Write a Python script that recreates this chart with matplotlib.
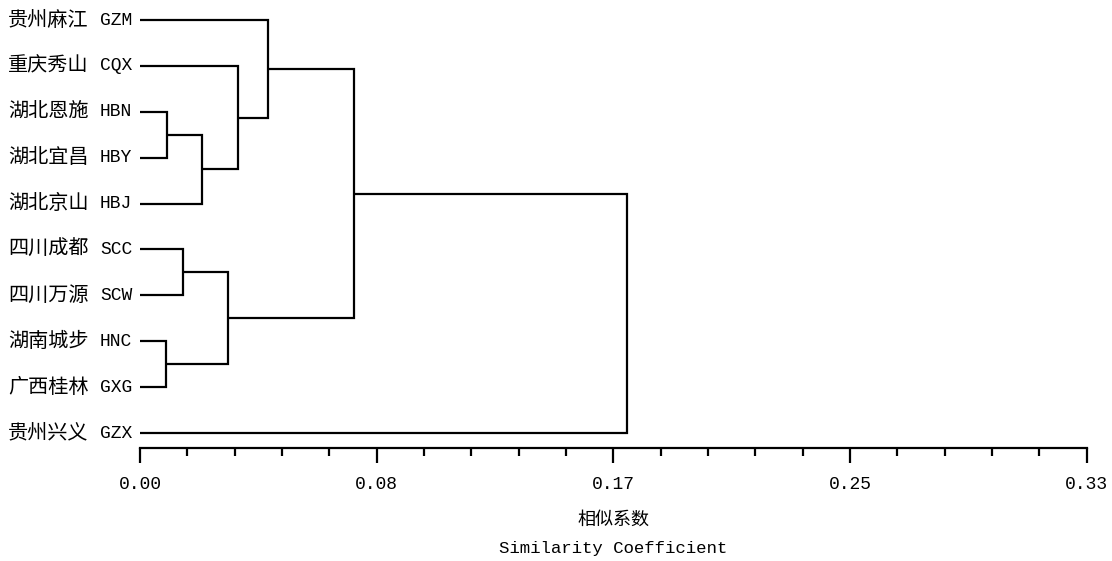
import matplotlib
matplotlib.use("Agg")
import matplotlib.pyplot as plt
import matplotlib.transforms as mtransforms
from matplotlib.ticker import FixedLocator, MultipleLocator

# ---------------- data ----------------
leaf_names = ["贵州麻江", "重庆秀山", "湖北恩施", "湖北宜昌", "湖北京山",
              "四川成都", "四川万源", "湖南城步", "广西桂林", "贵州兴义"]
leaf_codes = ["GZM", "CQX", "HBN", "HBY", "HBJ",
              "SCC", "SCW", "HNC", "GXG", "GZX"]
# merges: (left cluster, right cluster, height); clusters are leaf codes or merge ids "m#"
merge_left = ["HBN", "HNC", "SCC", "m0", "m2", "CQX", "GZM", "m6", "m7"]
merge_right = ["HBY", "GXG", "SCW", "HBJ", "m1", "m3", "m5", "m4", "GZX"]
merge_height = [0.0093, 0.0090, 0.0149, 0.0215, 0.0306, 0.0343, 0.0447, 0.0746, 0.1696]
tick_values = [0.0, 0.0825, 0.165, 0.2475, 0.33]
tick_labels = ["0.00", "0.08", "0.17", "0.25", "0.33"]
xlabel_cn = "相似系数"
xlabel_en = "Similarity Coefficient"

MONO = ["Liberation Mono", "Noto Sans CJK SC"]
CJK = ["Noto Sans CJK SC", "DejaVu Sans"]

fig = plt.figure(figsize=(11.12, 5.61), dpi=100)
ax = fig.add_axes([0.1259, 0.2014, 0.8514, 0.7711])

n = len(leaf_codes)
ypos = {c: (n - 1 - i) for i, c in enumerate(leaf_codes)}
xpos = {c: 0.0 for c in leaf_codes}

lw = 1.6
for k, (a, b, h) in enumerate(zip(merge_left, merge_right, merge_height)):
    ya, yb = ypos[a], ypos[b]
    xa, xb = xpos[a], xpos[b]
    ax.plot([xa, h, h, xb], [ya, ya, yb, yb], color="black", lw=lw,
            solid_joinstyle="miter", solid_capstyle="butt")
    ypos[f"m{k}"] = (ya + yb) / 2
    xpos[f"m{k}"] = h

ax.set_xlim(0, 0.33)
ax.set_ylim(-0.327, n - 1 + 0.1)

for s in ["top", "right", "left"]:
    ax.spines[s].set_visible(False)
ax.spines["bottom"].set_linewidth(lw)
ax.set_yticks([])
ax.xaxis.set_major_locator(FixedLocator(tick_values))
ax.xaxis.set_minor_locator(MultipleLocator(0.0165))
ax.set_xticklabels(tick_labels, fontfamily=MONO, fontsize=13)
ax.tick_params(axis="x", which="major", direction="out", length=11, width=lw, pad=9)
ax.tick_params(axis="x", which="minor", direction="out", length=5.5, width=lw)

# leaf labels
trans = mtransforms.blended_transform_factory(fig.transFigure, ax.transData)
for i, (nm, cd) in enumerate(zip(leaf_names, leaf_codes)):
    y = n - 1 - i
    ax.text(0.0072, y, nm, transform=trans, ha="left", va="center",
            fontfamily=CJK, fontsize=14.5, color="black")
    ax.text(0.0899, y, cd, transform=trans, ha="left", va="center",
            fontfamily=MONO, fontsize=13, color="black")

cx = 0.1259 + 0.8514 / 2
fig.text(cx, 1 - 520 / 561, xlabel_cn, ha="center", va="center",
         fontfamily=CJK, fontsize=13, color="black")
fig.text(cx, 1 - 549 / 561, xlabel_en, ha="center", va="center",
         fontfamily=MONO, fontsize=12.5, color="black")

fig.savefig("out.png", dpi=100, facecolor="white")
